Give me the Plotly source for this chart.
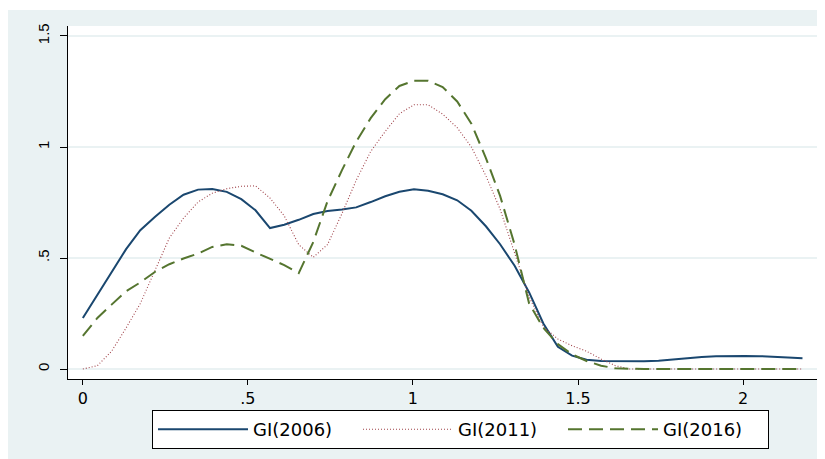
import plotly.graph_objects as go

# Evaluation grid (x) and density values
x_grid = [0, 0.044, 0.087, 0.131, 0.174, 0.218, 0.262, 0.305, 0.349, 0.392,
          0.436, 0.480, 0.523, 0.567, 0.610, 0.654, 0.698, 0.741, 0.785, 0.828,
          0.872, 0.916, 0.959, 1.003, 1.046, 1.090, 1.134, 1.177, 1.221, 1.264,
          1.308, 1.352, 1.395, 1.439, 1.482, 1.526, 1.570, 1.613, 1.657, 1.700,
          1.744, 1.788, 1.831, 1.875, 1.918, 1.962, 2.006, 2.049, 2.093, 2.136,
          2.180]

gi_2006 = [0.23, 0.335, 0.44, 0.54, 0.625, 0.685, 0.74, 0.785, 0.808, 0.811,
           0.798, 0.765, 0.715, 0.635, 0.65, 0.672, 0.698, 0.712, 0.718, 0.728,
           0.752, 0.778, 0.798, 0.81, 0.803, 0.787, 0.76, 0.713, 0.643, 0.562,
           0.465, 0.345, 0.205, 0.10, 0.06, 0.042, 0.036, 0.035, 0.035, 0.035,
           0.037, 0.043, 0.049, 0.054, 0.057, 0.059, 0.059, 0.058, 0.056, 0.052,
           0.048]

gi_2011 = [0.0, 0.015, 0.08, 0.185, 0.295, 0.446, 0.59, 0.68, 0.752, 0.792,
           0.812, 0.823, 0.825, 0.77, 0.69, 0.56, 0.503, 0.56, 0.70, 0.85,
           0.98, 1.07, 1.15, 1.19, 1.19, 1.148, 1.087, 1.0, 0.87, 0.72,
           0.525, 0.325, 0.19, 0.135, 0.105, 0.08, 0.045, 0.015, 0.0, 0.0,
           0.0, 0.0, 0.0, 0.0, 0.0, 0.0, 0.0, 0.0, 0.0, 0.0,
           0.0]

gi_2016 = [0.149, 0.23, 0.29, 0.35, 0.39, 0.437, 0.472, 0.498, 0.52, 0.55,
           0.562, 0.555, 0.525, 0.495, 0.468, 0.432, 0.572, 0.755, 0.896, 1.024,
           1.13, 1.215, 1.275, 1.298, 1.298, 1.27, 1.205, 1.105, 0.95, 0.78,
           0.56, 0.295, 0.185, 0.112, 0.066, 0.036, 0.015, 0.003, 0.0, 0.0,
           0.0, 0.0, 0.0, 0.0, 0.0, 0.0, 0.0, 0.0, 0.0, 0.0,
           0.0]

series_names = ["GI(2006)", "GI(2011)", "GI(2016)"]
x_tick_vals = [0, 0.5, 1, 1.5, 2]
x_tick_text = ["0", ".5", "1", "1.5", "2"]
y_tick_vals = [0, 0.5, 1, 1.5]
y_tick_text = ["0", ".5", "1", "1.5"]

BG = "#EAF2F3"
FONT_WIDE = "DejaVu Sans, Liberation Sans, sans-serif"
FONT = "Liberation Sans, Arial, sans-serif"

fig = go.Figure()
fig.add_trace(go.Scatter(x=x_grid, y=gi_2006, mode="lines", name=series_names[0],
                         line=dict(color="#1A476F", width=2)))
fig.add_trace(go.Scatter(x=x_grid, y=gi_2011, mode="lines", name=series_names[1],
                         line=dict(color="#A0434A", width=1.1, dash="1px,2px")))
fig.add_trace(go.Scatter(x=x_grid, y=gi_2016, mode="lines", name=series_names[2],
                         line=dict(color="#55752F", width=2, dash="14px,7px")))

# The page body adds an 8px offset; work in reference pixel coords minus 8.
OFF = 8
W, H = 825 - OFF, 459 - OFF
PL, PR, PT, PB = 68, 817, 26, 379          # plot area in reference pixels
L, T = PL - OFF, PT - OFF
R = W - (PR - OFF)
B = H - (PB - OFF)
pw, ph = W - L - R, H - T - B


def px_x(p):
    return (p - OFF - L) / pw


def px_y(p):
    return (H - B - (p - OFF)) / ph


fig.update_layout(
    width=W, height=H,
    margin=dict(l=L, r=R, t=T, b=B, autoexpand=False),
    paper_bgcolor="white",
    plot_bgcolor="white",
    font=dict(family=FONT_WIDE, size=16, color="black"),
    showlegend=True,
    legend=dict(
        orientation="h",
        x=px_x(152), xanchor="left",
        y=px_y(410), yanchor="top",
        bgcolor="white",
        bordercolor="black",
        borderwidth=1,
        itemwidth=90,
        entrywidth=100,
        font=dict(family=FONT_WIDE, size=18, color="black"),
    ),
    shapes=[
        dict(type="rect", xref="paper", yref="paper", layer="below",
             x0=px_x(7), x1=px_x(830), y0=px_y(465), y1=px_y(10),
             fillcolor=BG, line=dict(width=0)),
        dict(type="rect", xref="paper", yref="paper", layer="below",
             x0=0, x1=1, y0=0, y1=1,
             fillcolor="white", line=dict(width=0)),
    ],
)

fig.update_xaxes(
    range=[-0.045, 2.224],
    tickvals=x_tick_vals, ticktext=x_tick_text,
    ticks="outside", ticklen=5, tickwidth=1, tickcolor="black",
    showline=True, linecolor="black", linewidth=1,
    showgrid=False, zeroline=False, automargin=False,
    tickfont=dict(family=FONT_WIDE, size=16, color="black"),
)
fig.update_yaxes(
    range=[-0.045, 1.545],
    tickvals=y_tick_vals, ticktext=y_tick_text,
    ticks="outside", ticklen=7, tickwidth=1, tickcolor="black",
    tickangle=-90, ticklabelstandoff=5,
    showline=True, linecolor="black", linewidth=1,
    showgrid=True, gridcolor=BG, gridwidth=1.5,
    zeroline=False, automargin=False,
    tickfont=dict(family=FONT, size=15, color="black"),
)

fig.write_html("out.html")
